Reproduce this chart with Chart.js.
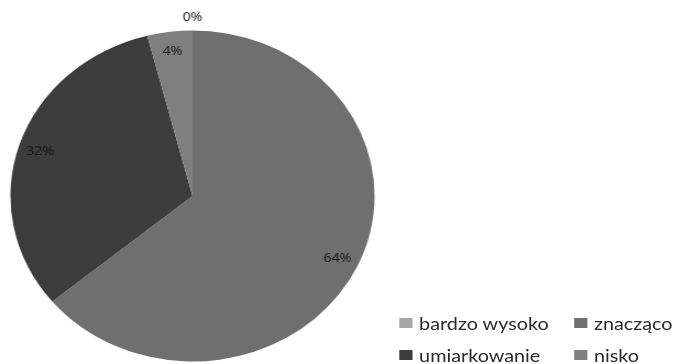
<!DOCTYPE html>
<html>
<head>
<meta charset="utf-8">
<script src="https://cdn.jsdelivr.net/npm/chart.js@4"></script>
<style>
  html, body { margin: 0; padding: 0; background: #fff; }
  #wrap {
    position: relative;
    width: 615px;
    height: 364px;
    transform: scaleX(1.1);
    transform-origin: 0 0;
  }
  #chart { position: absolute; left: 0; top: 0; }
  .item {
    position: absolute;
    display: flex;
    align-items: center;
    font-family: Lato, sans-serif;
    font-size: 18px;
    color: #2a2a2a;
    white-space: nowrap;
    height: 20px;
  }
  .box { width: 12px; height: 10px; margin-right: 6px; }
</style>
</head>
<body>
<div id="wrap">
  <canvas id="chart" width="615" height="364"></canvas>
  <div id="legend"></div>
</div>
<script>
const labels = ['bardzo wysoko', 'znacząco', 'umiarkowanie', 'nisko'];
const values = [0, 64, 32, 4];
const colors = ['#a6a6a6', '#6f6f6f', '#3c3c3c', '#7f7f7f'];

// percent labels near the outer edge, zero slice goes outside
const pctLabels = {
  id: 'pctLabels',
  afterDatasetsDraw(chart) {
    const ctx = chart.ctx;
    const meta = chart.getDatasetMeta(0);
    ctx.save();
    ctx.font = '13px "Open Sans", sans-serif';
    ctx.fillStyle = '#151515';
    ctx.textAlign = 'center';
    ctx.textBaseline = 'middle';
    meta.data.forEach((arc, i) => {
      const p = arc.getProps(['x', 'y', 'startAngle', 'endAngle', 'outerRadius'], true);
      const mid = (p.startAngle + p.endAngle) / 2;
      const r = values[i] === 0 ? p.outerRadius + 13 : p.outerRadius * 0.88;
      ctx.fillText(values[i] + '%', p.x + Math.cos(mid) * r, p.y + Math.sin(mid) * r);
    });
    ctx.restore();
  }
};

new Chart(document.getElementById('chart'), {
  type: 'pie',
  data: {
    labels: labels,
    datasets: [{
      data: values,
      backgroundColor: colors,
      borderColor: '#a0a0a0',
      borderWidth: values.map(v => v === 0 ? 1 : 0)
    }]
  },
  options: {
    responsive: false,
    animation: false,
    layout: { padding: { left: 9, right: 274, top: 30, bottom: 2 } },
    plugins: {
      legend: { display: false },
      tooltip: { enabled: false }
    }
  },
  plugins: [pctLabels]
});

// legend: two columns, two rows, bottom right
const spots = [[363, 313], [522, 313], [363, 345], [522, 345]];
const legend = document.getElementById('legend');
labels.forEach((name, i) => {
  const el = document.createElement('div');
  el.className = 'item';
  el.style.left = spots[i][0] + 'px';
  el.style.top = spots[i][1] + 'px';
  el.innerHTML = '<span class="box" style="background:' + colors[i] + '"></span>' + name;
  legend.appendChild(el);
});
</script>
</body>
</html>
